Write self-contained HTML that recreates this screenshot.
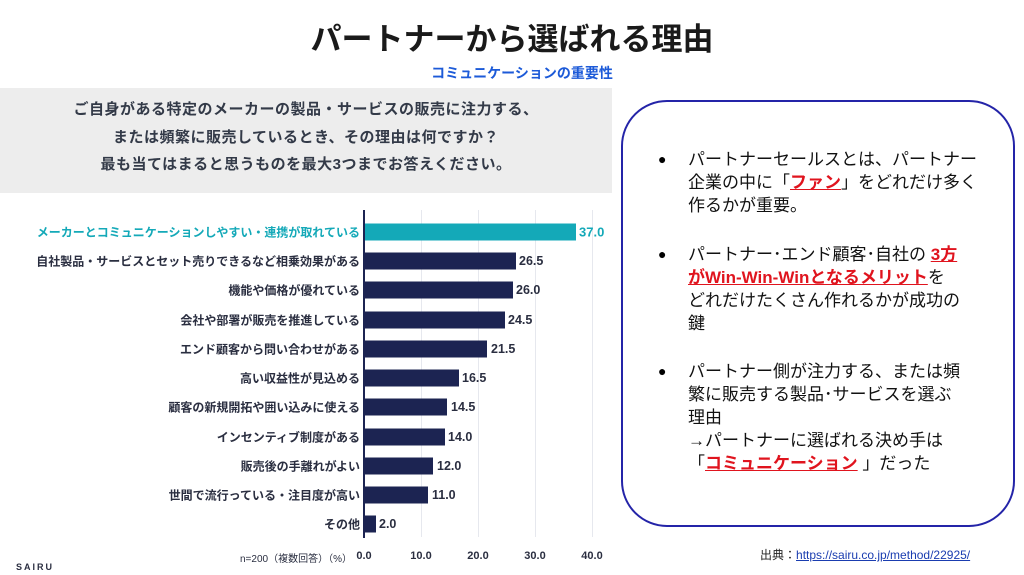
<!DOCTYPE html>
<html><head><meta charset="utf-8"><style>
*{margin:0;padding:0;box-sizing:border-box}
body{width:1024px;height:575px;background:#fff;position:relative;overflow:hidden;font-family:"Liberation Sans","Noto Sans CJK JP",sans-serif}
.a{position:absolute;white-space:nowrap}
.q{left:0;width:612px;text-align:center;font-size:15px;font-weight:bold;color:#333a48;letter-spacing:0.5px}
.lbl{right:664px;font-size:12px;font-weight:bold;color:#2a2e40;text-align:right;transform:translateY(-50%)}
.bar{position:absolute;left:365px;height:17px;background:#1c2452;transform:translateY(-50%)}
.val{font-size:12.5px;font-weight:bold;color:#2a2e40;transform:translateY(-50%)}
.tk{top:550px;font-size:11px;font-weight:bold;color:#2a2e40;transform:translateX(-50%)}
.rt{left:688px;font-size:17px;color:#111;line-height:23px}
.b{left:658px;font-size:14px}
.r{color:#e0141e;font-weight:bold;text-decoration:underline}
</style></head><body>
<div class="a" style="left:0;width:1024px;text-align:center;top:14px;font-size:31px;font-weight:bold;color:#1a1a1a">パートナーから選ばれる理由</div>
<div class="a" style="left:0;width:1024px;text-align:center;top:63px;font-size:14px;font-weight:bold;color:#1c5ad8;padding-left:20px">コミュニケーションの重要性</div>
<div class="a" style="left:0;top:88px;width:612px;height:105px;background:#ededed"></div>
<div class="a q" style="top:98px">ご自身がある特定のメーカーの製品・サービスの販売に注力する、</div>
<div class="a q" style="top:126px">または頻繁に販売しているとき、その理由は何ですか？</div>
<div class="a q" style="top:153px">最も当てはまると思うものを最大3つまでお答えください。</div>
<!-- grid -->
<div class="a" style="left:421px;top:210px;width:1px;height:327px;background:#e6e8ee"></div>
<div class="a" style="left:478px;top:210px;width:1px;height:327px;background:#e6e8ee"></div>
<div class="a" style="left:535px;top:210px;width:1px;height:327px;background:#e6e8ee"></div>
<div class="a" style="left:592px;top:210px;width:1px;height:327px;background:#e6e8ee"></div>
<div class="a" style="left:363px;top:210px;width:2px;height:328px;background:#1c2452"></div>
<div class="bar" style="top:232px;width:211px;background:#14a9b8"></div>
<div class="a val" style="top:232px;left:579px;color:#14a9b8;font-size:13px">37.0</div>
<div class="a lbl" style="top:232px;color:#14a9b8">メーカーとコミュニケーションしやすい・連携が取れている</div>
<div class="bar" style="top:261px;width:151px"></div><div class="a val" style="top:261px;left:519px">26.5</div><div class="a lbl" style="top:261px">自社製品・サービスとセット売りできるなど相乗効果がある</div>
<div class="bar" style="top:290px;width:148px"></div><div class="a val" style="top:290px;left:516px">26.0</div><div class="a lbl" style="top:290px">機能や価格が優れている</div>
<div class="bar" style="top:320px;width:140px"></div><div class="a val" style="top:320px;left:508px">24.5</div><div class="a lbl" style="top:320px">会社や部署が販売を推進している</div>
<div class="bar" style="top:349px;width:122px"></div><div class="a val" style="top:349px;left:491px">21.5</div><div class="a lbl" style="top:349px">エンド顧客から問い合わせがある</div>
<div class="bar" style="top:378px;width:94px"></div><div class="a val" style="top:378px;left:462px">16.5</div><div class="a lbl" style="top:378px">高い収益性が見込める</div>
<div class="bar" style="top:407px;width:82px"></div><div class="a val" style="top:407px;left:451px">14.5</div><div class="a lbl" style="top:407px">顧客の新規開拓や囲い込みに使える</div>
<div class="bar" style="top:437px;width:80px"></div><div class="a val" style="top:437px;left:448px">14.0</div><div class="a lbl" style="top:437px">インセンティブ制度がある</div>
<div class="bar" style="top:466px;width:68px"></div><div class="a val" style="top:466px;left:437px">12.0</div><div class="a lbl" style="top:466px">販売後の手離れがよい</div>
<div class="bar" style="top:495px;width:63px"></div><div class="a val" style="top:495px;left:432px">11.0</div><div class="a lbl" style="top:495px">世間で流行っている・注目度が高い</div>
<div class="bar" style="top:524px;width:11px"></div><div class="a val" style="top:524px;left:379px">2.0</div><div class="a lbl" style="top:524px">その他</div>
<div class="a tk" style="left:364px">0.0</div><div class="a tk" style="left:421px">10.0</div><div class="a tk" style="left:478px">20.0</div><div class="a tk" style="left:535px">30.0</div><div class="a tk" style="left:592px">40.0</div>
<div class="a" style="top:550px;left:240px;font-size:10px;color:#2a2e40">n=200（複数回答）（%）</div>
<div class="a" style="top:562px;left:16px;font-size:9px;font-weight:bold;color:#2a2e40;letter-spacing:2px">SAIRU</div>
<!-- right box -->
<div class="a" style="left:621px;top:100px;width:394px;height:427px;border:2px solid #2424a8;border-radius:46px"></div>
<div class="a b" style="top:151px">●</div>
<div class="a rt" style="top:148px">パートナーセールスとは、パートナー<br>企業の中に「<span class="r">ファン</span>」をどれだけ多く<br>作るかが重要。</div>
<div class="a b" style="top:246px">●</div>
<div class="a rt" style="top:243px">パートナー･エンド顧客･自社の <span class="r">3方</span><br><span class="r">がWin-Win-Winとなるメリット</span>を<br>どれだけたくさん作れるかが成功の<br>鍵</div>
<div class="a b" style="top:363px">●</div>
<div class="a rt" style="top:360px">パートナー側が注力する、または頻<br>繁に販売する製品･サービスを選ぶ<br>理由<br>→パートナーに選ばれる決め手は<br>「<span class="r">コミュニケーション</span> 」だった</div>
<div class="a" style="left:760px;top:546px;font-size:12px;color:#222">出典：<span style="color:#1a3db0;text-decoration:underline">https://sairu.co.jp/method/22925/</span></div>
</body></html>
